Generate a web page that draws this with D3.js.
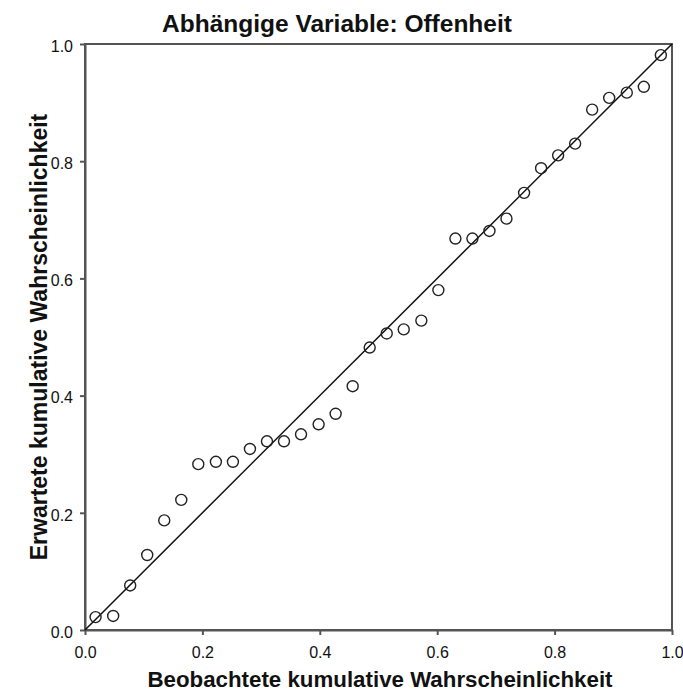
<!DOCTYPE html>
<html>
<head>
<meta charset="utf-8">
<script src="https://cdn.jsdelivr.net/npm/d3@7"></script>
<style>
  body { margin: 0; background: #fff; }
  text { font-family: Arial, "Liberation Sans", sans-serif; fill: #111; }
</style>
</head>
<body>
<svg width="683" height="700"></svg>
<script>
// observed cumulative probability (x) and expected cumulative probability (y)
var observed = [0.018, 0.048, 0.077, 0.106, 0.135, 0.164, 0.193, 0.223, 0.252, 0.281,
                0.310, 0.339, 0.368, 0.398, 0.427, 0.456, 0.485, 0.514, 0.543, 0.573,
                0.602, 0.631, 0.660, 0.689, 0.718, 0.748, 0.777, 0.806, 0.835, 0.864,
                0.893, 0.923, 0.952, 0.981];
var expected = [0.022, 0.024, 0.076, 0.128, 0.187, 0.222, 0.283, 0.287, 0.287, 0.309,
                0.322, 0.322, 0.334, 0.351, 0.369, 0.416, 0.482, 0.506, 0.513, 0.528,
                0.580, 0.668, 0.668, 0.681, 0.702, 0.746, 0.788, 0.810, 0.830, 0.888,
                0.908, 0.917, 0.927, 0.981];
var ticks = [0, 0.2, 0.4, 0.6, 0.8, 1.0];

var points = observed.map(function(d, i) { return {x: d, y: expected[i]}; });

var margin = {top: 44, right: 11, bottom: 70, left: 85},
    width = 683 - margin.left - margin.right,
    height = 700 - margin.top - margin.bottom;

var svg = d3.select('svg')
  .append('g')
  .attr('transform', 'translate(' + margin.left + ',' + margin.top + ')');

var xScale = d3.scaleLinear().domain([0, 1]).range([0, width]),
    yScale = d3.scaleLinear().domain([0, 1]).range([height, 0]);

var xAxis = d3.axisBottom(xScale).tickValues(ticks).tickFormat(d3.format('.1f')).tickSize(5).tickSizeOuter(0),
    yAxis = d3.axisLeft(yScale).tickValues(ticks).tickFormat(d3.format('.1f')).tickSize(5).tickSizeOuter(0);

// frame
svg.append('rect')
  .attr('width', width)
  .attr('height', height)
  .attr('fill', 'none')
  .attr('stroke', '#555')
  .attr('stroke-width', 2);

var gx = svg.append('g')
  .attr('transform', 'translate(0,' + height + ')')
  .call(xAxis);
var gy = svg.append('g')
  .call(yAxis);

[gx, gy].forEach(function(g) {
  g.select('.domain').attr('stroke', '#555').attr('stroke-width', 2);
  g.selectAll('.tick line').attr('stroke', '#555').attr('stroke-width', 2);
  g.selectAll('.tick text').style('font-size', '16px').attr('fill', '#222');
});
gx.selectAll('.tick text').attr('y', 28).attr('dy', 0);
gy.selectAll('.tick text').attr('dx', '-4px').attr('dy', '0.45em');

// diagonal reference line
svg.append('line')
  .attr('x1', xScale(0)).attr('y1', yScale(0))
  .attr('x2', xScale(1)).attr('y2', yScale(1))
  .attr('stroke', '#111')
  .attr('stroke-width', 1.5);

svg.selectAll('.dot')
  .data(points)
  .enter().append('circle')
  .attr('class', 'dot')
  .attr('r', 5.5)
  .attr('cx', function(d) { return xScale(d.x); })
  .attr('cy', function(d) { return yScale(d.y); })
  .attr('fill', 'none')
  .attr('stroke', '#222')
  .attr('stroke-width', 1.4);

// title
d3.select('svg').append('text')
  .attr('x', 337)
  .attr('y', 32)
  .attr('text-anchor', 'middle')
  .style('font-size', '24.5px')
  .style('font-weight', 'bold')
  .text('Abhängige Variable: Offenheit');

// x axis label
d3.select('svg').append('text')
  .attr('x', 380)
  .attr('y', 687)
  .attr('text-anchor', 'middle')
  .style('font-size', '22.3px')
  .style('font-weight', 'bold')
  .text('Beobachtete kumulative Wahrscheinlichkeit');

// y axis label
d3.select('svg').append('text')
  .attr('transform', 'translate(47,' + 337 + ') rotate(-90)')
  .attr('text-anchor', 'middle')
  .style('font-size', '23px')
  .style('font-weight', 'bold')
  .text('Erwartete kumulative Wahrscheinlichkeit');
</script>
</body>
</html>
